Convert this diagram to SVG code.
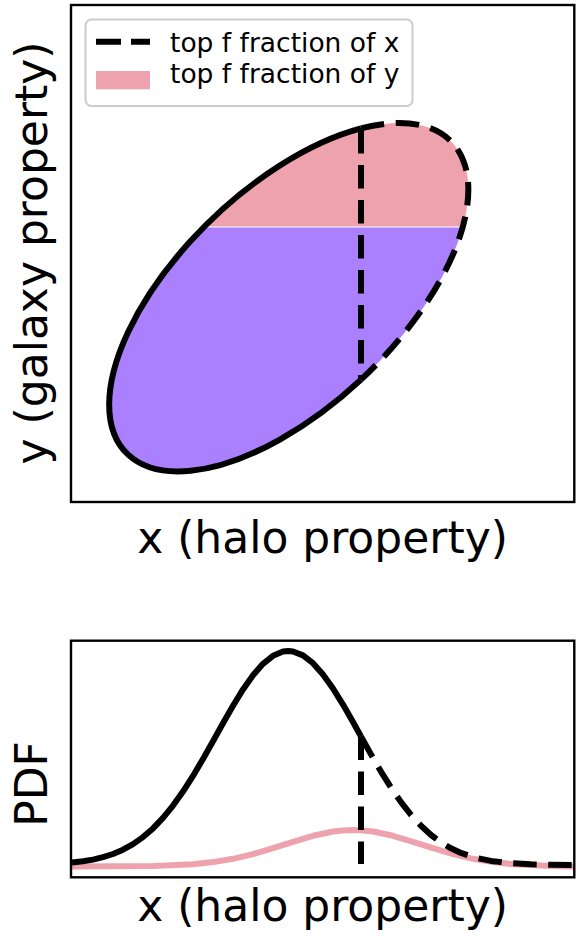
<svg xmlns="http://www.w3.org/2000/svg" width="576" height="937" viewBox="0 0 576 937">
<style>
.frame{fill:none;stroke:#000;stroke-width:2.4}
.blk{fill:none;stroke:#000;stroke-width:6;stroke-linejoin:round}
.dash{stroke-dasharray:23.5 11.5}
.pinkln{fill:none;stroke:#eea2ad;stroke-width:6;stroke-linejoin:round}
.lbl{font-family:"DejaVu Sans","Liberation Sans",sans-serif;font-size:44px;fill:#000}
.leg{font-family:"DejaVu Sans","Liberation Sans",sans-serif;font-size:26.5px;fill:#000}
</style>
<defs>
<clipPath id="ell"><ellipse cx="288.75" cy="297.25" rx="225" ry="109.5" transform="rotate(-43.6 288.75 297.25)"/></clipPath>
</defs>
<rect width="576" height="937" fill="#fff"/>
<g id="top-panel">
<g clip-path="url(#ell)">
<rect x="71" y="5" width="504" height="222" fill="#eea2ad"/>
<rect x="71" y="227" width="504" height="276" fill="#aa80ff"/>
<line x1="71" y1="227" x2="575" y2="227" stroke="#fff" stroke-width="1.2"/>
</g>
<path class="blk" d="M 361 379.6 A 225 109.5 -43.6 1 1 361 128.4"/>
<path class="blk dash" d="M 361 128.4 A 225 109.5 -43.6 0 1 361 379.6"/>
<line class="blk dash" x1="361" y1="130" x2="361" y2="379"/>
<rect class="frame" x="71" y="5" width="503.3" height="497"/>
</g>
<g id="legend">
<rect x="85.5" y="19.5" width="327" height="86.5" rx="6" fill="#fff" stroke="#cccccc" stroke-width="2"/>
<line class="blk" x1="96" y1="41.7" x2="150" y2="41.7" stroke-dasharray="25 10"/>
<rect x="96" y="71" width="54" height="18.3" fill="#eea2ad"/>
<text class="leg" x="170" y="51.7">top f fraction of x</text>
<text class="leg" x="170" y="83.3">top f fraction of y</text>
</g>
<g id="bottom-panel">
<polyline class="pinkln" points="72,866.5 153,866 193,864.2 213,862.1 233,858.8 253,854.1 273,848.2 293,841.8 313,835.8 333,831.5 343,830.4 353,830 363,830.4 373,831.5 393,835.8 413,841.8 433,848.2 453,854.1 473,858.8 493,862.1 513,864.2 553,866 574,866.5"/>
<polyline class="blk" points="72,862.6 83,861.3 93,859.6 103,857.2 113,854 123,849.7 133,844.1 143,837.1 153,828.4 163,817.9 173,805.6 183,791.6 193,775.9 203,758.9 213,741.2 223,723.2 233,705.7 243,689.4 253,675.2 263,663.8 273,655.8 283,651.6 288.3,651 293,651.5 303,655.4 313,663.2 323,674.5 333,688.5 343,704.6 353,722.1 361,736.5"/>
<polyline class="blk dash" points="361,736.5 371,754.4 381,771.6 391,787.6 401,802.1 411,814.9 421,825.8 431,835 441,842.4 451,848.3 461,852.9 476,857.8 491,860.9 511,863.2 531,864.3 551,864.7 573,865"/>
<line class="blk dash" x1="361" y1="736.5" x2="361" y2="864"/>
<rect class="frame" x="71" y="640.7" width="503.3" height="236.6"/>
</g>
<g id="labels">
<text class="lbl" x="322.5" y="553" text-anchor="middle">x (halo property)</text>
<text class="lbl" x="322.5" y="921" text-anchor="middle">x (halo property)</text>
<text class="lbl" transform="translate(47 253) rotate(-90)" text-anchor="middle">y (galaxy property)</text>
<text class="lbl" transform="translate(47 784) rotate(-90)" text-anchor="middle">PDF</text>
</g>
</svg>
